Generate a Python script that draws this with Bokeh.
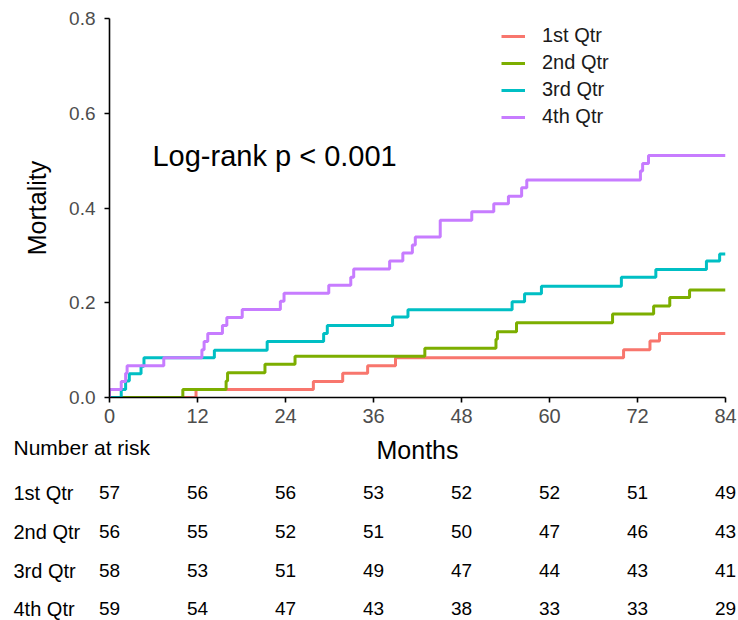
from bokeh.plotting import figure
from bokeh.layouts import column, row
from bokeh.models import (Range1d, Legend, LegendItem, Label, FixedTicker,
                          NumeralTickFormatter)
from bokeh.core.properties import value
from bokeh.embed import file_html
from bokeh.resources import INLINE

# ---------------- data ----------------
groups = ["1st Qtr", "2nd Qtr", "3rd Qtr", "4th Qtr"]
colors = ["#F8766D", "#7CAE00", "#00BFC4", "#C77CFF"]

q1_time = [11.8, 27.8, 31.8, 35.2, 39.0, 70.1, 73.7, 75.0]
q1_mort = [0.017, 0.034, 0.051, 0.067, 0.084, 0.101, 0.119, 0.135]

q2_time = [10.0, 15.9, 16.1, 21.2, 25.3, 43.0, 52.7, 52.9, 55.5, 68.6, 74.2, 76.4, 79.1]
q2_mort = [0.017, 0.035, 0.052, 0.070, 0.087, 0.104, 0.123, 0.139, 0.158, 0.176, 0.193,
           0.211, 0.227]

q3_time = [1.6, 2.2, 2.7, 4.3, 4.7, 14.3, 21.5, 29.2, 29.7, 38.6, 40.7, 54.9, 56.6,
           58.9, 69.8, 74.5, 81.4, 83.2]
q3_mort = [0.017, 0.035, 0.050, 0.066, 0.084, 0.100, 0.118, 0.135, 0.152, 0.170, 0.185,
           0.202, 0.219, 0.235, 0.254, 0.270, 0.288, 0.303]

q4_time = [0.0, 1.6, 2.2, 2.4, 7.4, 12.6, 12.9, 13.4, 15.4, 16.0, 18.1, 23.3, 23.8,
           29.9, 32.9, 33.3, 38.2, 40.0, 41.3, 41.7, 45.1, 49.4, 52.4, 54.4, 56.2,
           56.9, 72.4, 72.7, 73.5]
q4_mort = [0.017, 0.034, 0.051, 0.067, 0.084, 0.101, 0.118, 0.135, 0.152, 0.169, 0.186,
           0.203, 0.220, 0.237, 0.254, 0.271, 0.288, 0.305, 0.322, 0.339, 0.374, 0.392,
           0.409, 0.425, 0.443, 0.459, 0.478, 0.494, 0.511]

x_ticks = [0, 12, 24, 36, 48, 60, 72, 84]
y_ticks = [0.0, 0.2, 0.4, 0.6, 0.8]

risk_q1 = [57, 56, 56, 53, 52, 52, 51, 49]
risk_q2 = [56, 55, 52, 51, 50, 47, 46, 43]
risk_q3 = [58, 53, 51, 49, 47, 44, 43, 41]
risk_q4 = [59, 54, 47, 43, 38, 33, 33, 29]

pvalue_text = "Log-rank p < 0.001"
risk_title = "Number at risk"
x_title = "Months"
y_title = "Mortality"

# ---------------- layout constants ----------------
FONT = "Liberation Sans"
W, H = 738, 620
X_MAX = 84
LEFT, RIGHT = 109, 13          # frame borders (px)
TOP_A, BOT_A = 18, 39
HA = 436                        # main plot height
HB = H - HA                     # risk table height
PX_PER_MONTH = (W - LEFT - RIGHT) / X_MAX

# ---------------- main plot ----------------
p = figure(width=W, height=HA, output_backend="svg", toolbar_location=None,
           x_range=Range1d(0, X_MAX), y_range=Range1d(0, 0.8),
           min_border_left=LEFT, min_border_right=RIGHT,
           min_border_top=TOP_A, min_border_bottom=BOT_A)
p.outline_line_color = None
p.xgrid.visible = False
p.ygrid.visible = False
p.background_fill_color = "white"
p.border_fill_color = "white"

renderers = []
for t_, m_, c in zip([q1_time, q2_time, q3_time, q4_time],
                     [q1_mort, q2_mort, q3_mort, q4_mort], colors):
    xs = [0] + t_ + [X_MAX]
    ys = [0] + m_ + [m_[-1]]
    renderers.append(p.step(xs, ys, mode="after", line_color=c, line_width=3))

for ax in (p.xaxis[0], p.yaxis[0]):
    ax.axis_line_color = "black"
    ax.axis_line_width = 1.6
    ax.major_tick_line_color = "black"
    ax.major_tick_line_width = 1.6
    ax.major_tick_out = 5
    ax.major_tick_in = 0
    ax.minor_tick_line_color = None
    ax.major_label_text_font = FONT
    ax.major_label_text_color = "#4D4D4D"
    ax.axis_label_text_font = FONT
    ax.axis_label_text_font_size = "25px"
    ax.axis_label_text_font_style = "normal"
    ax.axis_label_text_color = "black"

p.xaxis.ticker = FixedTicker(ticks=x_ticks)
p.yaxis.ticker = FixedTicker(ticks=y_ticks)
p.yaxis.formatter = NumeralTickFormatter(format="0.0")
p.xaxis.major_label_text_font_size = "20px"
p.yaxis.major_label_text_font_size = "19px"
p.xaxis.major_label_standoff = 6
p.yaxis.major_label_standoff = 9
p.yaxis.axis_label = y_title
p.yaxis.axis_label_standoff = 15

legend = Legend(items=[LegendItem(label=g, renderers=[r]) for g, r in zip(groups, renderers)],
                location=(392, 269), orientation="vertical",
                label_text_font=FONT, label_text_font_size="20px", label_text_color="#1A1A1A",
                glyph_width=24, glyph_height=20, label_height=20, label_standoff=17,
                spacing=4, padding=0, margin=0,
                border_line_color=None, background_fill_alpha=0)
p.add_layout(legend)

p.add_layout(Label(x=5.86, y=0.509, text=pvalue_text, text_font=FONT,
                   text_font_size="29px", text_baseline="middle", text_align="left",
                   text_color="black"))

# ---------------- risk table (same month scale, y in page pixels) ----------------
t = figure(width=W, height=HB, output_backend="svg", toolbar_location=None,
           x_range=Range1d(-LEFT / PX_PER_MONTH, X_MAX + RIGHT / PX_PER_MONTH),
           y_range=Range1d(H, HA),
           x_axis_location=None, y_axis_location=None,
           min_border=0, min_border_left=0, min_border_right=0,
           min_border_top=0, min_border_bottom=0)
t.outline_line_color = None
t.grid.visible = False
t.background_fill_color = "white"
t.border_fill_color = "white"

label_x = (13 - LEFT) / PX_PER_MONTH
row_y = [492, 531, 570, 608]

t.text(x=[X_MAX / 2], y=[449], text=[x_title], text_font=value(FONT),
       text_font_size="25px", text_align="center", text_baseline="middle",
       text_color="black")
t.text(x=[label_x], y=[447], text=[risk_title], text_font=value(FONT),
       text_font_size="21px", text_align="left", text_baseline="middle",
       text_color="black")
t.text(x=[label_x] * len(groups), y=row_y, text=groups, text_font=value(FONT),
       text_font_size="20px", text_align="left", text_baseline="middle",
       text_color="black")
for risk, ry in zip([risk_q1, risk_q2, risk_q3, risk_q4], row_y):
    t.text(x=x_ticks, y=[ry] * len(x_ticks), text=[str(v) for v in risk],
           text_font=value(FONT), text_font_size="19px", text_align="center",
           text_baseline="middle", text_color="black")

# wrap each figure separately so the two frames are not aligned to each other
layout = column(row(p), row(t), spacing=0)
open("out.html", "w").write(file_html(layout, INLINE))
